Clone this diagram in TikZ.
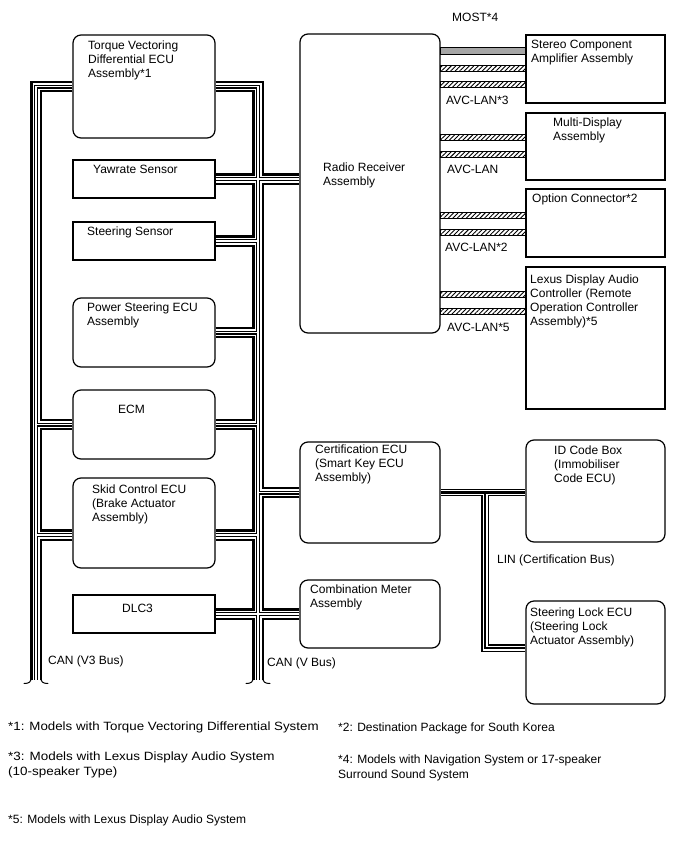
\documentclass[tikz,border=0pt]{standalone}
\usepackage{fontspec}
\setmainfont{Liberation Sans}
\usetikzlibrary{patterns.meta}
\begin{document}
\begin{tikzpicture}[x=1pt,y=-1pt,
  box/.style={draw, line width=1.2pt, fill=white, inner sep=0pt},
  rbox/.style={box, rounded corners=8pt},
  txt/.style={anchor=north west, inner sep=0pt, align=left, font=\fontsize{12}{14}\selectfont},
  ftxt/.style={txt, font=\fontsize{12}{15}\selectfont},
  most/.style={draw, line width=0.8pt, fill=black!35},
  avc/.style={draw, line width=0.8pt, pattern={Lines[angle=45,distance=3.2pt,line width=0.9pt]}},
  wave/.style={line width=1pt, line cap=round}]
\useasboundingbox (0,0) rectangle (688,852);

% left column
\node[rbox, minimum width=142pt, minimum height=103pt] (tv) at (144,86.5) {};
\node[box,  minimum width=142pt, minimum height=38pt] (yaw) at (144,179) {};
\node[box,  minimum width=142pt, minimum height=38pt] (ss) at (144,241) {};
\node[rbox, minimum width=142pt, minimum height=69pt] (ps) at (144,332.5) {};
\node[rbox, minimum width=142pt, minimum height=69pt] (ecm) at (144,424.5) {};
\node[rbox, minimum width=142pt, minimum height=90pt] (skid) at (144,523) {};
\node[box,  minimum width=142pt, minimum height=38pt] (dlc) at (144,614) {};
% middle column
\node[rbox, minimum width=140pt, minimum height=299pt] (radio) at (370,183.5) {};
\node[rbox, minimum width=140pt, minimum height=101pt] (cert) at (370,492.5) {};
\node[rbox, minimum width=140pt, minimum height=68pt] (meter) at (370,614) {};
% right column
\node[box,  minimum width=139pt, minimum height=68pt] (stereo) at (595.5,69) {};
\node[box,  minimum width=139pt, minimum height=67pt] (multi) at (595.5,146.5) {};
\node[box,  minimum width=139pt, minimum height=68pt] (option) at (595.5,223) {};
\node[box,  minimum width=139pt, minimum height=142pt] (lexus) at (595.5,338) {};
\node[rbox, minimum width=139pt, minimum height=102pt] (idbox) at (595.5,491) {};
\node[rbox, minimum width=139pt, minimum height=103pt] (slock) at (595.5,652.5) {};

% box texts
\node[txt] (ttv) at (88,41) {Torque Vectoring\\Differential ECU\\Assembly*1};
\node[txt] (tyaw) at (93,165) {Yawrate Sensor};
\node[txt] (tss) at (87,227) {Steering Sensor};
\node[txt] (tps) at (87,303) {Power Steering ECU\\Assembly};
\node[txt] (tecm) at (118,405) {ECM};
\node[txt] (tskid) at (92,485) {Skid Control ECU\\(Brake Actuator\\Assembly)};
\node[txt] (tdlc) at (122,604) {DLC3};
\node[txt] (tradio) at (323,163) {Radio Receiver\\Assembly};
\node[txt] (tcert) at (315,445) {Certification ECU\\(Smart Key ECU\\Assembly)};
\node[txt] (tmeter) at (310,585) {Combination Meter\\Assembly};
\node[txt] (tstereo) at (531,40) {Stereo Component\\Amplifier Assembly};
\node[txt] (tmulti) at (553,118) {Multi-Display\\Assembly};
\node[txt] (toption) at (532,194) {Option Connector*2};
\node[txt] (tlexus) at (530,275) {Lexus Display Audio\\Controller (Remote\\Operation Controller\\Assembly)*5};
\node[txt] (tid) at (554,446) {ID Code Box\\(Immobiliser\\Code ECU)};
\node[txt] (tslock) at (530,608) {Steering Lock ECU\\(Steering Lock\\Actuator Assembly)};

% bus coordinates
\coordinate (v3top) at (36,86.5);
\coordinate (v3bot) at (36,680);
\coordinate (vtop) at (258,86.5);
\coordinate (vbot) at (258,680);
\coordinate (skidbus) at (258,535);
\coordinate (linb) at (485,648);

% CAN buses
\foreach \w/\c in {11.5/black,7/white,4/black,1.6/white}{
  \draw[line width=\w pt, draw=\c, line join=miter]
   (tv.west) -- (v3top) -- (v3bot)
   (ecm.west) -- (ecm.west -| v3top)
   (skid.west |- skidbus) -- (skidbus -| v3top)
   (tv.east) -- (vtop) -- (vbot)
   (yaw.east) -- (yaw.east -| radio.west)
   (ss.east) -- (ss.east -| vtop)
   (ps.east) -- (ps.east -| vtop)
   (ecm.east) -- (ecm.east -| vtop)
   (cert.west) -- (cert.west -| vtop)
   (skid.east |- skidbus) -- (skidbus)
   (dlc.east) -- (dlc.east -| meter.west);
}
% bus ends
\draw[wave] (31.5,676) .. controls (31.5,682) and (29,683.5) .. (24,683.5);
\draw[wave] (40.5,676) .. controls (40.5,682) and (43,683.5) .. (48,683.5);
\draw[wave] (253.5,676) .. controls (253.5,682) and (251,683.5) .. (246,683.5);
\draw[wave] (262.5,676) .. controls (262.5,682) and (265,683.5) .. (270,683.5);

% LIN bus
\foreach \w/\c in {7.5/black,5/white,2.5/black}{
  \draw[line width=\w pt, draw=\c, line join=miter]
   (cert.east) -- (cert.east -| idbox.west)
   (cert.east -| linb) -- (linb) -- (linb -| slock.west);
}

% MOST and AVC-LAN
\draw[most] (radio.east |- 0,47.5) rectangle (stereo.west |- 0,54.5);
\draw[avc] (radio.east |- 0,65) rectangle (stereo.west |- 0,71);
\draw[avc] (radio.east |- 0,81.5) rectangle (stereo.west |- 0,87.5);
\draw[avc] (radio.east |- 0,134) rectangle (multi.west |- 0,140);
\draw[avc] (radio.east |- 0,151.5) rectangle (multi.west |- 0,157.5);
\draw[avc] (radio.east |- 0,212) rectangle (option.west |- 0,218);
\draw[avc] (radio.east |- 0,229) rectangle (option.west |- 0,235);
\draw[avc] (radio.east |- 0,291) rectangle (lexus.west |- 0,297);
\draw[avc] (radio.east |- 0,308) rectangle (lexus.west |- 0,314);

% bus labels
\node[txt] (lmost) at (452,13) {MOST*4};
\node[txt] (lavc3) at (446,96) {AVC-LAN*3};
\node[txt] (lavc) at (447,165) {AVC-LAN};
\node[txt] (lavc2) at (445,243) {AVC-LAN*2};
\node[txt] (lavc5) at (447,323) {AVC-LAN*5};
\node[txt] (lv3) at (48,656) {CAN (V3 Bus)};
\node[txt] (lv) at (267,658) {CAN (V Bus)};
\node[txt] (llin) at (497,555) {LIN (Certification Bus)};

% footnotes
\node[ftxt] (f1) at (8,722) {\scalebox{1.11}[1]{*1: Models with Torque Vectoring Differential System}};
\node[ftxt] (f2) at (338,723) {*2: Destination Package for South Korea};
\node[ftxt] (f3) at (8,752) {\scalebox{1.12}[1]{*3: Models with Lexus Display Audio System}\\\scalebox{1.12}[1]{(10-speaker Type)}};
\node[ftxt] (f4) at (338,755) {*4: Models with Navigation System or 17-speaker\\Surround Sound System};
\node[ftxt] (f5) at (8,815) {*5: Models with Lexus Display Audio System};
\end{tikzpicture}
\end{document}
